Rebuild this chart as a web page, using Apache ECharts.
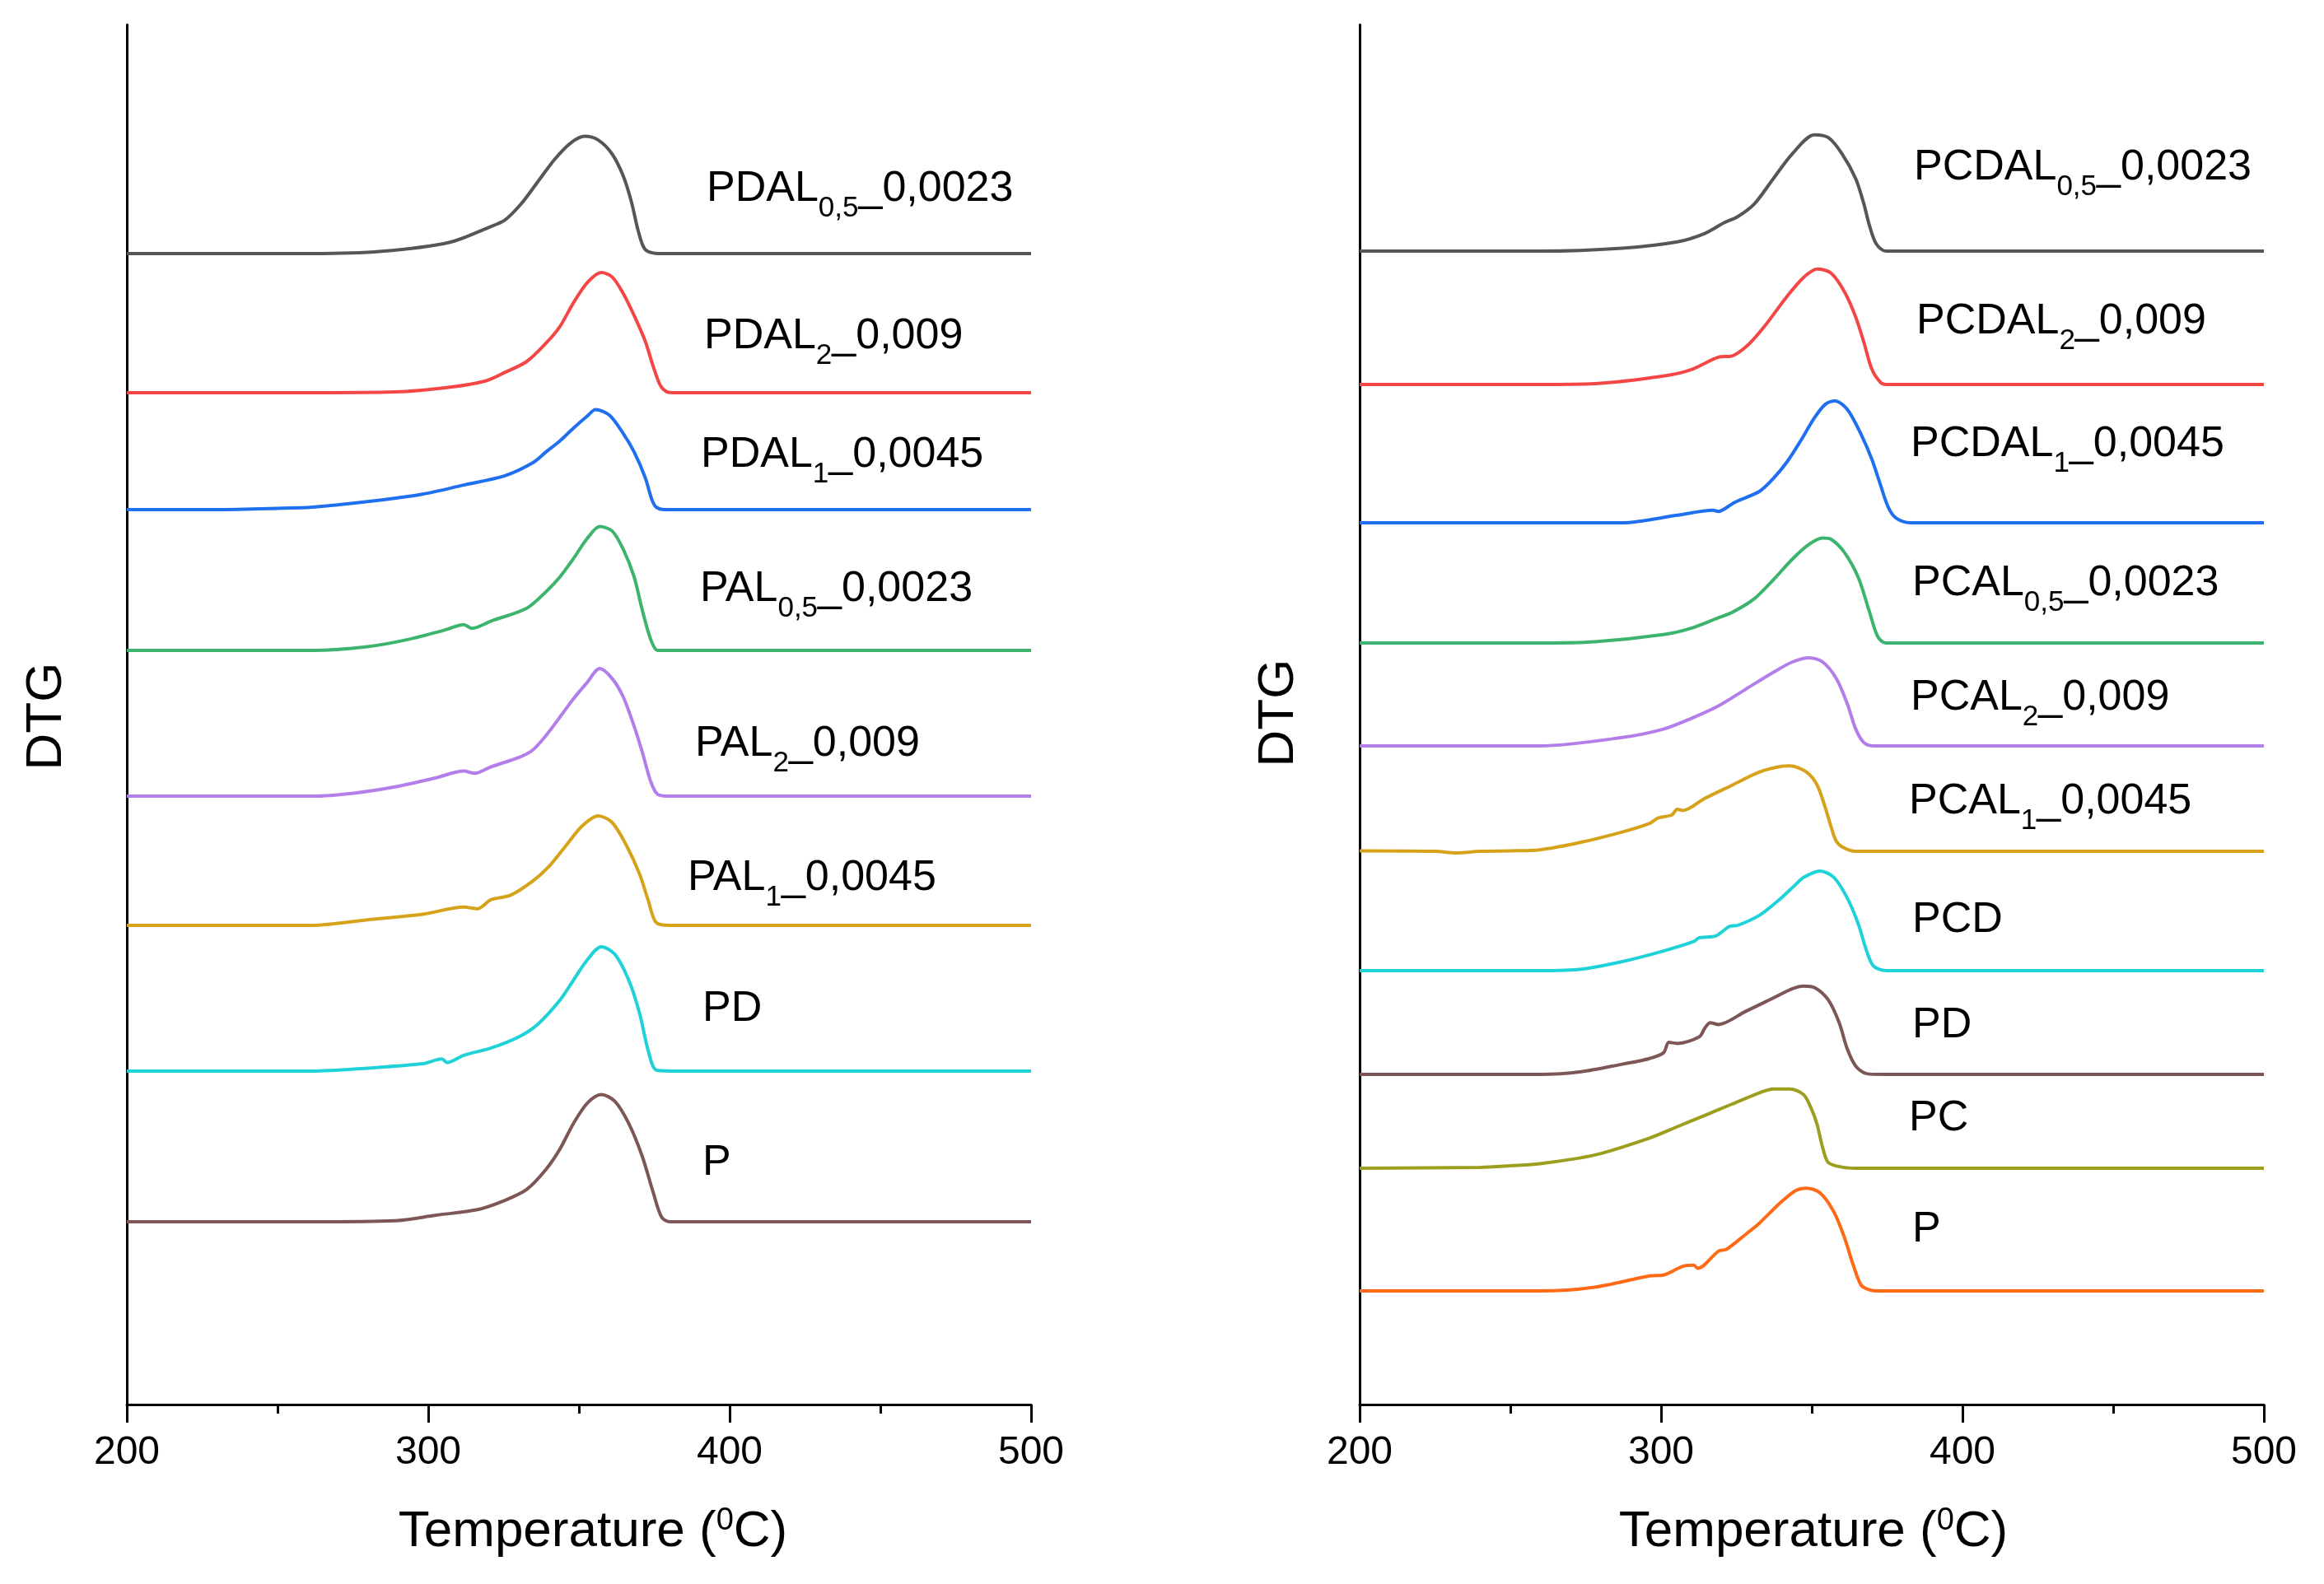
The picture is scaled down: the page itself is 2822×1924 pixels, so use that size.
<!DOCTYPE html>
<html>
<head>
<meta charset="utf-8">
<script src="https://cdn.jsdelivr.net/npm/echarts@6/dist/echarts.min.js"></script>
<style>
html,body{margin:0;padding:0;background:#fff;}
#chart{width:2822px;height:1924px;}
</style>
</head>
<body>
<div id="chart"></div>
<script>
// ---------------- DATA (temperature in °C, DTG height above each curve's baseline, arbitrary units) ----------------
const xTicks = [200, 300, 400, 500];

// Left panel
const leftNames = ['PDAL0,5_0,0023', 'PDAL2_0,009', 'PDAL1_0,0045', 'PAL0,5_0,0023', 'PAL2_0,009', 'PAL1_0,0045', 'PD', 'P'];
const leftOffsets = [1398, 1229, 1087, 916, 739, 582, 405, 222];

const tL_PDAL05 = [200, 240, 261.6, 284.4, 307.2, 320, 325.4, 330.9, 336.4, 341.9, 347.3, 351.9, 356.4, 361, 364.7, 367.4, 369.7, 372, 376.5, 500];
const hL_PDAL05 = [0, 0, 0, 2.7, 13.8, 31.7, 40.6, 60.7, 87.5, 114.3, 134.4, 142.4, 137.9, 121, 94.2, 63, 27.2, 4.9, 0, 0];

const tL_PDAL2 = [200, 261.6, 289, 307.2, 319, 325.4, 332.7, 339.1, 343.7, 348.2, 352.8, 357.4, 361, 364.7, 368.3, 372, 374.7, 377, 379.2, 381, 500];
const hL_PDAL2 = [0, 0, 0.9, 6.7, 14.3, 24.6, 38, 60.3, 80.4, 109.4, 133.9, 146, 140.6, 120.5, 93.8, 62.5, 31.3, 8.9, 0.9, 0, 0];

const tL_PDAL1 = [200, 230, 250, 261.6, 279.8, 298.1, 311.8, 325.4, 334.6, 339.1, 343.7, 348.2, 352.8, 355.5, 360.1, 364.7, 368.3, 372, 374.2, 375.6, 378.3, 500];
const hL_PDAL1 = [0, 0, 1.5, 3.1, 9.8, 18.8, 29.9, 41.1, 56.7, 70.1, 83.5, 99.1, 113.8, 121.4, 114.7, 92.4, 70.1, 38.8, 12.1, 3.1, 0, 0];

const tL_PAL05 = [200, 261.6, 279.8, 293.5, 305.4, 311.8, 314.5, 320.9, 332.7, 339.1, 343.7, 348.2, 352.8, 356.9, 361, 364.7, 368.3, 371, 373.8, 376.1, 380.2, 500];
const hL_PAL05 = [0, 0, 4.5, 13.4, 24.6, 31.3, 26.8, 35.7, 51.3, 71.4, 89.3, 111.6, 136.2, 150.4, 145.1, 122.8, 89.3, 49.1, 13.4, 0, 0, 0];

const tL_PAL2 = [200, 261.6, 275.3, 289, 302.6, 311.8, 315.4, 320.9, 330, 334.6, 339.1, 343.7, 348.2, 352.8, 356.9, 361, 364.7, 368.3, 371, 373.8, 376.1, 380.2, 500];
const hL_PAL2 = [0, 0, 3.6, 11.2, 22.3, 30.4, 27.7, 35.7, 46.9, 55.8, 73.7, 96, 118.3, 138.4, 155, 142.9, 120.5, 84.8, 53.6, 17.9, 2.2, 0, 0];

const tL_PAL1 = [200, 261.6, 279.8, 298.1, 311.8, 316.3, 320.9, 327.3, 334.6, 340, 345.5, 351, 356.4, 361, 365.6, 370.1, 372.9, 375.6, 380.2, 500];
const hL_PAL1 = [0, 0, 6.7, 13.4, 22.3, 20.1, 31.3, 36.6, 53.6, 71.4, 96, 120.5, 133, 125, 98.2, 62.5, 31.3, 3.6, 0, 0];

const tL_PD = [200, 261.6, 279.8, 298.1, 304.5, 306.3, 311.8, 320.9, 330, 336.4, 343.7, 348.2, 352.8, 357.4, 361.9, 366.5, 370.1, 372.9, 375.6, 380.2, 500];
const hL_PD = [0, 0, 3.6, 8.9, 14.7, 10.3, 19.2, 28.1, 41.5, 57.1, 86.2, 110.7, 135.3, 150.9, 142, 110.7, 70.5, 25.9, 1.3, 0, 0];

const tL_P = [200, 261.6, 289, 302.6, 316.3, 325.4, 332.7, 339.1, 343.7, 348.2, 352.8, 357.4, 361.9, 366.5, 371, 374.7, 377.4, 380.2, 500];
const hL_P = [0, 0, 1.3, 8, 14.7, 25.9, 39.3, 63.8, 88.4, 119.6, 144.2, 154.5, 146.4, 119.6, 79.5, 34.8, 5.8, 0, 0];

// Right panel
const rightNames = ['PCDAL0,5_0,0023', 'PCDAL2_0,009', 'PCDAL1_0,0045', 'PCAL0,5_0,0023', 'PCAL2_0,009', 'PCAL1_0,0045', 'PCD', 'PD', 'PC', 'P'];
const rightOffsets = [1401, 1239, 1071, 925, 800, 672, 527, 401, 287, 138];

const tR_PCDAL05 = [200, 259.8, 287.1, 305.4, 314.5, 320.8, 325.4, 330.9, 337.2, 343.6, 350.9, 355.5, 360, 364.6, 367.3, 369.1, 371.4, 374.6, 500];
const hR_PCDAL05 = [0, 0, 3.6, 11.2, 21.4, 34.2, 41.8, 57.1, 87.8, 118.4, 141.3, 137.8, 118.4, 87.8, 57.1, 31.6, 8.7, 0, 0];

const tR_PCDAL2 = [200, 259.8, 278, 300.8, 309.9, 319, 323.6, 329, 334.5, 341.8, 347.3, 351.8, 356.4, 360.9, 364.6, 367.3, 370, 372.8, 374.6, 500];
const hR_PCDAL2 = [0, 0, 1, 10.2, 17.9, 33.2, 34.7, 48.5, 71.4, 107.1, 130.1, 140.3, 135.2, 112.2, 81.6, 51, 17.9, 2.6, 0, 0];

const tR_PCDAL1 = [200, 259.8, 287.1, 305.4, 317.2, 319, 323.6, 325.4, 332.7, 337.2, 341.8, 346.3, 350.9, 354.5, 357.7, 361.8, 366.4, 370, 372.8, 375.5, 378.2, 382.8, 500];
const hR_PCDAL1 = [0, 0, 0, 9.2, 15.3, 13.8, 23, 26.5, 38.3, 53.6, 74, 99.5, 127.6, 143.9, 148, 137.8, 107.1, 76.5, 45.9, 17.9, 5.1, 0, 0];

const tR_PCAL05 = [200, 259.8, 278, 300.8, 309.9, 319, 323.6, 330.9, 337.2, 343.6, 349.1, 353.6, 356.4, 360.9, 365.5, 369.1, 371.9, 374.6, 500];
const hR_PCAL05 = [0, 0, 1.5, 10.2, 17.9, 30.6, 37.2, 53.6, 76.5, 102, 119.9, 127.6, 126, 109.7, 79.1, 38.3, 7.7, 0, 0];

const tR_PCAL2 = [200, 240, 259.8, 287.1, 300.8, 309.9, 319, 328.1, 337.2, 343.6, 349.1, 353.6, 358.2, 361.8, 364.6, 367.3, 370.9, 500];
const hR_PCAL2 = [0, 0, 0, 10.2, 20.4, 33.2, 48.5, 68.9, 89.3, 102, 107.1, 102, 81.6, 51, 20.4, 4.1, 0, 0];

const tR_PCAL1 = [200, 225, 232, 240, 250, 259.8, 273.5, 287.1, 296.2, 299, 303.5, 305.4, 307.2, 314.5, 323.6, 332.7, 340, 342.7, 348.2, 351.8, 354.5, 356.4, 358.2, 360.9, 364.6, 500];
const hR_PCAL1 = [0.5, 0, -2, 0, 0.5, 1.8, 11, 23.4, 33.9, 40.4, 44, 50.9, 49.5, 64.2, 80.3, 96.3, 103.2, 103.7, 96.3, 80.3, 52.8, 29.8, 11.9, 3.7, 0, 0];

const tR_PCD = [200, 259.8, 273.5, 287.1, 300.8, 310.8, 312.6, 318.1, 322.7, 325.4, 332.7, 339.1, 344.5, 347.3, 352.7, 357.3, 361.8, 365.5, 368.2, 370.5, 374.6, 500];
const hR_PCD = [0, 0, 1.8, 11, 23.9, 35.3, 39.9, 42.2, 53.7, 55, 67.4, 85.8, 104.1, 113.3, 121.1, 113.3, 88.1, 56, 23.9, 5.5, 0, 0];

const tR_PD = [200, 259.8, 273.5, 287.1, 296.2, 300.8, 302.6, 305.4, 312.6, 314.5, 316.3, 319, 328.1, 337.2, 343.6, 347.3, 350.9, 355.5, 359.1, 361.8, 364.6, 368.2, 373.7, 500];
const hR_PD = [0, 0, 3.2, 12.4, 19.3, 26.1, 39, 37.6, 45.4, 56, 62.8, 60.6, 76.6, 92.7, 104.1, 107.3, 105.5, 90.4, 62.8, 30.7, 10.1, 0.9, 0, 0];

const tR_PC = [200, 240, 250, 259.8, 278, 296.2, 305.4, 314.5, 323.6, 332.7, 337.2, 342.7, 347.3, 350, 351.8, 353.6, 355.5, 360, 364.6, 500];
const hR_PC = [0, 1, 3, 5.5, 16.1, 36.7, 50.5, 64.2, 78, 91.7, 96.3, 96.3, 89.4, 71.1, 52.8, 25.2, 6.9, 1.4, 0, 0];

const tR_P = [200, 259.8, 278, 296.2, 300.8, 307.2, 310.8, 312.2, 319, 321.7, 328.1, 332.7, 339.1, 344.5, 348.2, 352.7, 357.3, 360.9, 363.7, 366.4, 369.1, 372, 500];
const hR_P = [0, 0, 4.6, 18.3, 19.3, 29.8, 31.2, 27.5, 48.2, 50.5, 68.8, 82.6, 105.5, 121.6, 124.8, 119.3, 96.3, 64.2, 32.1, 6.9, 1.4, 0, 0];

// ---------------- STYLE / LAYOUT ----------------
const FONT = '"Liberation Sans", Arial, sans-serif';
const leftCurves = [[tL_PDAL05, hL_PDAL05], [tL_PDAL2, hL_PDAL2], [tL_PDAL1, hL_PDAL1], [tL_PAL05, hL_PAL05],
                    [tL_PAL2, hL_PAL2], [tL_PAL1, hL_PAL1], [tL_PD, hL_PD], [tL_P, hL_P]];
const rightCurves = [[tR_PCDAL05, hR_PCDAL05], [tR_PCDAL2, hR_PCDAL2], [tR_PCDAL1, hR_PCDAL1], [tR_PCAL05, hR_PCAL05],
                     [tR_PCAL2, hR_PCAL2], [tR_PCAL1, hR_PCAL1], [tR_PCD, hR_PCD], [tR_PD, hR_PD], [tR_PC, hR_PC], [tR_P, hR_P]];
const leftColors = ['#565656', '#F54646', '#1F6FEE', '#3DB46E', '#B47EEA', '#D6A21A', '#1ED2D8', '#7E5656'];
const rightColors = ['#565656', '#F54646', '#1F6FEE', '#3DB46E', '#B47EEA', '#D6A21A', '#1ED2D8', '#7E5656', '#9C9E1E', '#FF6A16'];
// label anchor (left edge, vertical middle) in pixels
const leftLabelPos = [[858, 230], [855, 409], [851, 553], [850, 716], [844, 904], [835, 1067], [853, 1226], [853, 1413]];
const rightLabelPos = [[2324, 204], [2327, 391], [2320, 540], [2322, 709], [2320, 848], [2318, 974], [2322, 1118], [2322, 1246], [2318, 1359], [2322, 1494]];

function richName(name) {
  // split "PDAL0,5_0,0023" into main / subscript / rest
  const m = name.match(/^([A-Z]+)([0-9,]+)(_.*)$/);
  if (!m) return '{m|' + name + '}';
  return '{m|' + m[1] + '}{s|' + m[2] + '}{m|' + m[3] + '}';
}

const Y_MAX = 1676;
const grids = [
  {left: 154, right: 2822 - 1252, top: 30, bottom: 1924 - 1706},
  {left: 1651, right: 2822 - 2749, top: 30, bottom: 1924 - 1706}
];

function xAxis(gi) {
  return {
    type: 'value', gridIndex: gi, min: 200, max: 500, interval: 100,
    axisLine: {show: true, onZero: false, lineStyle: {color: '#000', width: 3}},
    axisTick: {show: true, inside: false, length: 22, lineStyle: {color: '#000', width: 3}},
    minorTick: {show: true, splitNumber: 2, length: 11, lineStyle: {color: '#000', width: 3}},
    axisLabel: {show: true, fontSize: 48, fontFamily: FONT, color: '#000', margin: 35,
      formatter: v => (xTicks.indexOf(v) >= 0 ? String(v) : '')},
    splitLine: {show: false}, minorSplitLine: {show: false}
  };
}
function yAxis(gi) {
  return {
    type: 'value', gridIndex: gi, min: 0, max: Y_MAX,
    axisLine: {show: true, onZero: false, lineStyle: {color: '#000', width: 3}},
    axisTick: {show: false}, axisLabel: {show: false}, splitLine: {show: false}
  };
}

const series = [];
leftCurves.forEach((c, i) => {
  series.push({
    type: 'line', name: leftNames[i], xAxisIndex: 0, yAxisIndex: 0,
    data: c[0].map((t, k) => [t, c[1][k] + leftOffsets[i]]),
    showSymbol: false, smooth: 0.3, lineStyle: {color: leftColors[i], width: 4}, silent: true
  });
});
rightCurves.forEach((c, i) => {
  series.push({
    type: 'line', name: rightNames[i], xAxisIndex: 1, yAxisIndex: 1,
    data: c[0].map((t, k) => [t, c[1][k] + rightOffsets[i]]),
    showSymbol: false, smooth: 0.3, lineStyle: {color: rightColors[i], width: 4}, silent: true
  });
});

const labelRich = {
  m: {fontSize: 52, fontFamily: FONT, color: '#000', lineHeight: 82},
  s: {fontSize: 35, fontFamily: FONT, color: '#000', lineHeight: 34, verticalAlign: 'bottom'}
};
const graphics = [];
leftNames.forEach((n, i) => graphics.push({
  type: 'text', x: leftLabelPos[i][0], y: leftLabelPos[i][1],
  style: {text: richName(n), rich: labelRich, fill: '#000', align: 'left', verticalAlign: 'middle'}
}));
rightNames.forEach((n, i) => graphics.push({
  type: 'text', x: rightLabelPos[i][0], y: rightLabelPos[i][1],
  style: {text: richName(n), rich: labelRich, fill: '#000', align: 'left', verticalAlign: 'middle'}
}));
const titleRich = {
  m: {fontSize: 62, fontFamily: FONT, color: '#000', lineHeight: 64},
  u: {fontSize: 38, fontFamily: FONT, color: '#000', lineHeight: 38, verticalAlign: 'top'}
};
[[720, 1861], [2202, 1861]].forEach(p => graphics.push({
  type: 'text', x: p[0], y: p[1],
  style: {text: '{m|Temperature (}{u|0}{m|C)}', rich: titleRich, fill: '#000', align: 'center', verticalAlign: 'middle'}
}));
[[57, 870], [1553, 866]].forEach(p => graphics.push({
  type: 'text', x: p[0], y: p[1], rotation: Math.PI / 2,
  style: {text: 'DTG', fontSize: 62, fontFamily: FONT, fill: '#000', align: 'center', verticalAlign: 'middle'}
}));

const chart = echarts.init(document.getElementById('chart'), null, {renderer: 'canvas'});
chart.setOption({
  backgroundColor: '#fff',
  animation: false,
  grid: grids,
  xAxis: [xAxis(0), xAxis(1)],
  yAxis: [yAxis(0), yAxis(1)],
  series: series,
  graphic: graphics
});
</script>
</body>
</html>
